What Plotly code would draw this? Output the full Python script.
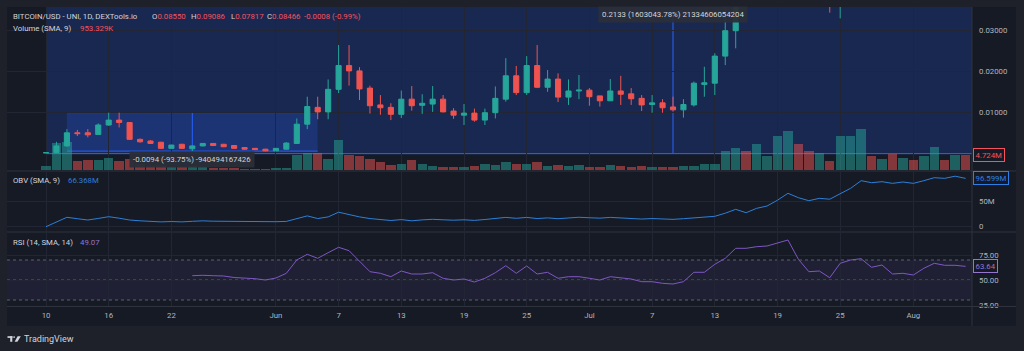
import plotly.graph_objects as go
import pandas as pd

# ---------------- data ----------------
dates = pd.date_range("2023-05-10", "2023-08-06", freq="D")

open_ = [0.0002, 0.00025, 0.0019, 0.0051, 0.0051, 0.0047, 0.0070, 0.0082, 0.0076, 0.0035, 0.0031,
         0.0028, 0.0013, 0.0023, 0.0012, 0.0019, 0.0025, 0.0023, 0.0020, 0.0015, 0.0013, 0.0011,
         0.0007, 0.0011, 0.0025, 0.0072, 0.0113, 0.0102, 0.0157, 0.0215, 0.0202, 0.0160, 0.0119,
         0.0113, 0.0096, 0.0133, 0.0118, 0.0121, 0.0133, 0.0104, 0.0094, 0.0099, 0.0082, 0.0100,
         0.0133, 0.0190, 0.0149, 0.0215, 0.0162, 0.0182, 0.0138, 0.0153,
         0.0155, 0.0141, 0.0129, 0.0153, 0.0146, 0.0135, 0.0120, 0.0124, 0.0114, 0.0107, 0.0119,
         0.0169, 0.0172, 0.0238, 0.0300, 0.060, 0.052, 0.068, 0.071, 0.085, 0.098, 0.072, 0.060,
         0.064, 0.052, 0.066, 0.078, 0.088, 0.079, 0.083, 0.076,
         0.079, 0.073, 0.081, 0.088, 0.083, 0.0855]
high = [0.0003, 0.0029, 0.0060, 0.0058, 0.0060, 0.0074, 0.0100, 0.0100, 0.0077, 0.0037, 0.0033,
        0.0029, 0.0022, 0.0024, 0.0020, 0.0026, 0.0026, 0.0024, 0.0021, 0.0016, 0.0014, 0.0012,
        0.0014, 0.0028, 0.0086, 0.0139, 0.0139, 0.0181, 0.0265, 0.0265, 0.0211, 0.0166, 0.0143,
        0.0123, 0.0154, 0.0165, 0.0145, 0.0165, 0.0143, 0.0111, 0.0121, 0.0110, 0.0110, 0.0164,
        0.0233, 0.0214, 0.0238, 0.0265, 0.0204, 0.0196, 0.0181, 0.0192,
        0.0160, 0.0141, 0.0182, 0.0190, 0.0160, 0.0143, 0.0143, 0.0133, 0.0139, 0.0133, 0.0176,
        0.0212, 0.0245, 0.0420, 0.0650, 0.068, 0.072, 0.075, 0.092, 0.110, 0.102, 0.076, 0.068,
        0.066, 0.070, 0.082, 0.092, 0.090, 0.086, 0.085, 0.082,
        0.080, 0.084, 0.092, 0.090, 0.089, 0.09086]
low = [0.0001, 0.0002, 0.0017, 0.0043, 0.0040, 0.0046, 0.0068, 0.0064, 0.0034, 0.0027, 0.0024,
       0.0012, 0.0012, 0.0012, 0.0007, 0.0018, 0.0019, 0.0016, 0.0012, 0.0010, 0.0009, 0.0006,
       0.0006, 0.0010, 0.0024, 0.0060, 0.0084, 0.0084, 0.0148, 0.0166, 0.0131, 0.0098, 0.0095,
       0.0082, 0.0087, 0.0105, 0.0097, 0.0102, 0.0101, 0.0085, 0.0070, 0.0078, 0.0070, 0.0086,
       0.0127, 0.0143, 0.0143, 0.0160, 0.0151, 0.0126, 0.0119, 0.0133,
       0.0117, 0.0115, 0.0129, 0.0119, 0.0119, 0.0104, 0.0100, 0.0100, 0.0105, 0.0088, 0.0115,
       0.0139, 0.0143, 0.0216, 0.0257, 0.048, 0.050, 0.062, 0.066, 0.080, 0.068, 0.055, 0.052,
       0.0344, 0.0330, 0.060, 0.072, 0.074, 0.074, 0.072, 0.072,
       0.070, 0.071, 0.079, 0.080, 0.081, 0.07817]
close = [0.00025, 0.0019, 0.0051, 0.0049, 0.0046, 0.0070, 0.0082, 0.0076, 0.0035, 0.0029, 0.0025,
         0.0013, 0.0021, 0.0013, 0.0019, 0.0025, 0.0020, 0.0017, 0.0013, 0.0011, 0.0010, 0.0007,
         0.0013, 0.0026, 0.0072, 0.0115, 0.0102, 0.0157, 0.0215, 0.0202, 0.0158, 0.0117, 0.0112,
         0.0096, 0.0133, 0.0117, 0.0123, 0.0133, 0.0102, 0.0094, 0.0099, 0.0082, 0.0100, 0.0135,
         0.0190, 0.0149, 0.0215, 0.0162, 0.0182, 0.0138, 0.0153, 0.0155,
         0.0139, 0.0129, 0.0153, 0.0145, 0.0134, 0.0119, 0.0124, 0.0112, 0.0107, 0.0120, 0.0172,
         0.0173, 0.0238, 0.0300, 0.0600, 0.052, 0.068, 0.071, 0.085, 0.098, 0.072, 0.060, 0.064,
         0.052, 0.066, 0.078, 0.088, 0.079, 0.083, 0.076, 0.079,
         0.073, 0.081, 0.088, 0.083, 0.0855, 0.08466]

volume_m = [1.26, 8.5, 8.8, 2.84, 3.15, 3.15, 3.69, 2.84, 3.37, 1.80, 1.35, 1.58, 0.85, 1.04, 1.26,
            1.04, 0.72, 0.54, 0.54, 0.32, 0.32, 0.32,
            0.72, 0.72, 4.73, 5.26, 5.26, 3.37, 9.45, 4.63, 4.41, 3.37, 2.43, 1.58, 1.80, 3.15, 1.89,
            1.26, 1.04, 0.85, 0.85, 1.26, 1.89, 1.58, 2.61, 1.89, 1.89, 2.43, 1.35, 1.58, 1.35, 1.58,
            1.04, 0.85, 1.58, 1.35, 0.85, 1.26, 1.04, 0.85, 0.85, 1.35, 1.35, 1.89, 1.80, 5.99, 6.93,
            5.99, 8.19, 4.41, 10.71, 12.29, 8.19, 5.83, 5.51, 2.99, 10.80, 10.80, 13.07, 4.41, 3.47,
            4.95, 3.78,
            3.24, 4.50, 7.15, 3.24, 4.82, 4.724]

obv_m = [0.0, 9.2, 18.8, 16.0, 13.4, 16.5, 20.0, 17.0, 13.4, 11.8, 10.6, 9.6, 10.4, 9.6, 10.8, 11.7,
         11.0, 10.6, 10.2, 9.9, 9.6, 9.4,
         10.0, 10.6, 15.6, 21.6, 16.3, 19.6, 29.0, 24.0, 19.6, 16.3, 14.0, 12.4, 14.2, 11.8, 13.6,
         14.8, 13.8, 13.0, 13.8, 12.6, 14.4, 16.0, 18.6, 16.8, 18.6, 16.3, 17.6, 16.0, 17.4, 18.9,
         17.9, 17.1, 18.6, 17.3, 16.5, 15.3, 16.3, 15.5, 14.7, 16.0, 17.3, 19.1, 20.8, 27.0, 34.7,
         28.0, 36.7, 41.4, 53.0, 66.8, 58.0, 52.0, 56.7, 55.0, 66.0, 76.8, 92.0, 88.0, 90.0, 86.7,
         89.4,
         86.7, 92.0, 98.0, 96.7, 101.0, 96.6]

rsi = [None] * 14 + [54.3, 54.7, 54.3, 54.0, 52.5, 52.0, 51.3, 50.0,
                     52.0, 56.7, 70.0, 75.7, 71.7, 77.3, 82.7, 79.3, 68.3, 58.3, 56.7, 53.3, 59.0,
                     56.0, 56.0, 57.3, 51.7, 50.0, 51.0, 48.0, 51.7, 57.3, 64.3, 56.7, 64.0, 56.0,
                     57.7, 51.7, 53.3, 53.3,
                     51.7, 50.0, 53.3, 52.3, 51.0, 48.3, 48.3, 46.7, 46.0, 48.3, 57.7, 57.7, 65.7,
                     71.7, 81.7, 81.7, 83.3, 84.0, 87.3, 90.0, 70.7, 58.3, 59.0, 52.3, 66.7, 70.0,
                     71.3, 62.7, 65.0, 56.0, 56.7,
                     55.0, 61.7, 66.7, 64.7, 64.7, 63.64]

tick_dates = ["2023-05-10", "2023-05-16", "2023-05-22", "2023-06-01", "2023-06-07", "2023-06-13",
              "2023-06-19", "2023-06-25", "2023-07-01", "2023-07-07", "2023-07-13", "2023-07-19",
              "2023-07-25", "2023-08-01"]
tick_text = ["10", "16", "22", "Jun", "7", "13", "19", "25", "Jul", "7", "13", "19", "25", "Aug"]

# measurement drawings (date range in days from first bar, price range)
big_box = dict(d0=0, d1=120, p0=0.0000133, p1=0.2133)
small_box = dict(d0=2, d1=26, p0=0.000627, p1=0.010027)
big_label = "0.2133 (1603043.78%) 21334606054204"
small_label = "-0.0094 (-93.75%) -940494167426"

# ---------------- style / geometry ----------------
W, H = 1024, 351
PL, PR, PT, PB = 7, 972, 7, 306
OUTER = "#1e212a"
PANE = "#161a25"
GRID = "#222634"
SEP = "#2f333e"
TXT = "#d1d4dc"
AX = "#b2b5be"
GREEN = "#26a69a"
RED = "#ef5350"
HRED = "#f7525f"
BLUE = "#2962ff"
OBVC = "#2d7fd6"
RSIC = "#7e57c2"
FONT = "Roboto"
FS = 7.8
AFS = 7.8


def fx(x):
    return (x - PL) / (PR - PL)


def fy(y):
    return (PB - y) / (PB - PT)


base = dates[0]


def day(d):
    t = base + pd.Timedelta(days=d)
    return t.round("s").strftime("%Y-%m-%d %H:%M:%S")


x_left = day((PL - 46) / 10.45)
x_right = day((PR - 46) / 10.45)

MAIN_BOT = 170
price_range = [(153.7 - MAIN_BOT) / 4100, (153.7 - PT) / 4100]
vol_range = [0, (MAIN_BOT - PT) * 0.315]
obv_range = [(226.7 - 231) * 2, (226.7 - 172) * 2]
rsi_range = [330 - PB, 330 - 233]

up = [c >= o for o, c in zip(open_, close)]
vol_colors = ["rgba(38,166,154,0.5)" if u else "rgba(239,83,80,0.5)" for u in up]

fig = go.Figure()
fig.add_trace(go.Bar(x=dates, y=volume_m, marker=dict(color=vol_colors, line=dict(width=0)),
                     width=86400000 * 0.9, xaxis="x", yaxis="y", hoverinfo="skip"))
fig.add_trace(go.Candlestick(x=dates, open=open_, high=high, low=low, close=close,
                             increasing=dict(line=dict(color=GREEN, width=1), fillcolor=GREEN),
                             decreasing=dict(line=dict(color=RED, width=1), fillcolor=RED),
                             whiskerwidth=0, xaxis="x", yaxis="y2", hoverinfo="skip"))
fig.add_trace(go.Scatter(x=dates, y=obv_m, mode="lines", line=dict(color=OBVC, width=1),
                         xaxis="x2", yaxis="y3", hoverinfo="skip"))
fig.add_trace(go.Scatter(x=dates, y=rsi, mode="lines", line=dict(color=RSIC, width=1),
                         xaxis="x3", yaxis="y4", hoverinfo="skip"))

xcommon = dict(type="date", range=[x_left, x_right], tickvals=tick_dates, ticktext=tick_text,
               showgrid=True, gridcolor=GRID, gridwidth=1, zeroline=False, showline=False,
               rangeslider=dict(visible=False), fixedrange=True)
ycommon = dict(zeroline=False, showline=False, fixedrange=True, gridcolor=GRID,
               tickfont=dict(family=FONT, size=AFS, color=AX), ticks="", ticklabelstandoff=6)

layout = dict(
    width=W, height=H, margin=dict(l=PL, r=W - PR, t=PT, b=H - PB),
    paper_bgcolor=OUTER, plot_bgcolor="rgba(0,0,0,0)", showlegend=False, hovermode=False,
    bargap=0, boxgap=0.3,
    xaxis=dict(xcommon, anchor="y", showticklabels=False),
    xaxis2=dict(xcommon, anchor="y3", matches="x", showticklabels=False),
    xaxis3=dict(xcommon, anchor="y4", matches="x", showticklabels=True,
                tickfont=dict(family=FONT, size=AFS, color=AX), ticks="", ticklabelstandoff=3),
    yaxis=dict(ycommon, domain=[fy(MAIN_BOT), 1], range=vol_range, showgrid=False,
               showticklabels=False),
    yaxis2=dict(ycommon, domain=[fy(MAIN_BOT), 1], overlaying="y", side="right", anchor="x",
                range=price_range, tickvals=[0.01, 0.02, 0.03], tickformat=".5f", showgrid=True),
    yaxis3=dict(ycommon, domain=[fy(231), fy(172)], side="right", anchor="x2", range=obv_range,
                tickvals=[0, 50], ticktext=["0", "50M"], showgrid=True),
    yaxis4=dict(ycommon, domain=[0, fy(233)], side="right", anchor="x3", range=rsi_range,
                tickvals=[25, 50, 75], tickformat=".2f", showgrid=True),
)
fig.update_layout(**layout)

shapes = []
# dark chart frame
shapes.append(dict(type="rect", xref="paper", yref="paper", x0=fx(7), x1=fx(1016), y0=fy(326),
                   y1=fy(7), fillcolor=PANE, line=dict(width=0), layer="below"))
# measurement boxes
for bx in (big_box, small_box):
    shapes.append(dict(type="rect", xref="x", yref="y2", x0=day(bx["d0"]), x1=day(bx["d1"]),
                       y0=bx["p0"], y1=bx["p1"], fillcolor="rgba(41,98,255,0.2)",
                       line=dict(width=0), layer="below"))
    for p in (bx["p0"], bx["p1"]):
        shapes.append(dict(type="line", xref="x", yref="y2", x0=day(bx["d0"]), x1=day(bx["d1"]),
                           y0=p, y1=p, line=dict(color=BLUE, width=1), layer="below"))
    mid = (bx["d0"] + bx["d1"]) / 2
    shapes.append(dict(type="line", xref="x", yref="y2", x0=day(mid), x1=day(mid),
                       y0=bx["p0"], y1=bx["p1"], line=dict(color=BLUE, width=1), layer="below"))
# RSI band and dashed levels
shapes.append(dict(type="rect", xref="x3", yref="y4", x0=x_left, x1=x_right, y0=30, y1=70,
                   fillcolor="rgba(126,87,194,0.1)", line=dict(width=0), layer="below"))
for lv in (70, 50, 30):
    shapes.append(dict(type="line", xref="x3", yref="y4", x0=x_left, x1=x_right, y0=lv, y1=lv,
                       line=dict(color="#5d606b", width=1, dash="3px,3px"), layer="below"))
# pane separators / axis borders
for yy in (171, 232, 306.5):
    shapes.append(dict(type="line", xref="paper", yref="paper", x0=fx(7), x1=fx(1016),
                       y0=fy(yy), y1=fy(yy), line=dict(color=SEP, width=1), layer="above"))
shapes.append(dict(type="line", xref="paper", yref="paper", x0=fx(972), x1=fx(972), y0=fy(326),
                   y1=fy(7), line=dict(color=SEP, width=1), layer="above"))
# TradingView logo mark
logo = [
    (7.5, 12.5, 336.2, 337.9),
    (10.2, 12.3, 336.2, 341.8),
]
for x0, x1, y0, y1 in logo:
    shapes.append(dict(type="rect", xref="paper", yref="paper", x0=fx(x0), x1=fx(x1),
                       y0=fy(y1), y1=fy(y0), fillcolor=TXT, line=dict(width=0), layer="above"))
shapes.append(dict(type="circle", xref="paper", yref="paper", x0=fx(13.2), x1=fx(15.0),
                   y0=fy(338.0), y1=fy(336.2), fillcolor=TXT, line=dict(width=0), layer="above"))
shapes.append(dict(type="path", xref="paper", yref="paper",
                   path="M {} {} L {} {} L {} {} L {} {} Z".format(fx(17.6), fy(336.2), fx(20.8), fy(336.2),
                                                                 fx(17.4), fy(341.8), fx(14.6), fy(341.8)),
                   fillcolor=TXT, line=dict(width=0), layer="above"))
fig.update_layout(shapes=shapes)

ann = []


def txt(x, y, s, color=TXT, size=FS, **kw):
    ann.append(dict(xref="paper", yref="paper", x=fx(x), y=fy(y), text=s, showarrow=False,
                    xanchor="left", yanchor="middle", font=dict(family=FONT, size=size, color=color),
                    borderpad=0, **kw))


# header
txt(12, 16.3, "BITCOIN/USD - UNI, 1D, DEXTools.io")
txt(151, 16.3, "O<span style='color:%s'>0.08550</span>" % HRED)
txt(190, 16.3, "H<span style='color:%s'>0.09086</span>" % HRED)
txt(229.5, 16.3, "L<span style='color:%s'>0.07817</span>" % HRED)
txt(266, 16.3, "C<span style='color:%s'>0.08466</span>" % HRED)
txt(302.5, 16.3, "-0.0008 (-0.99%)", color=HRED)
txt(12, 29, "Volume (SMA, 9)")
txt(78.5, 29, "953.329K", color=HRED)
txt(12, 180.7, "OBV (SMA, 9)")
txt(67.2, 180.7, "66.368M", color=OBVC)
txt(12, 242.7, "RSI (14, SMA, 14)")
txt(78.5, 242.7, "49.07", color="#9575cd")
txt(22.5, 339, "TradingView", size=9)

# measurement labels
ann.append(dict(xref="x", yref="paper", x=day((big_box["d0"] + big_box["d1"]) / 2), y=fy(15),
                text=big_label, showarrow=False, xanchor="center", yanchor="middle",
                font=dict(family=FONT, size=AFS, color=TXT), bgcolor="rgba(42,46,57,0.95)",
                borderpad=3))
ann.append(dict(xref="x", yref="paper", x=day((small_box["d0"] + small_box["d1"]) / 2), y=fy(159.3),
                text=small_label, showarrow=False, xanchor="center", yanchor="middle",
                font=dict(family=FONT, size=AFS, color=TXT), bgcolor="rgba(42,46,57,0.95)",
                borderpad=3))


# last-value axis labels
def axlabel(yref, yv, s, color):
    ann.append(dict(xref="paper", yref=yref, x=fx(973), y=yv, text=s, showarrow=False,
                    xanchor="left", yanchor="middle", font=dict(family=FONT, size=AFS, color=color),
                    bgcolor=PANE, bordercolor=color, borderwidth=1, borderpad=1.5))


axlabel("y", volume_m[-1], "4.724M", HRED)
axlabel("y3", obv_m[-1], "96.599M", "#2d7fe6")
axlabel("y4", rsi[-1], "63.64", "#9575cd")

fig.update_layout(annotations=ann)
fig.write_html("out.html")
